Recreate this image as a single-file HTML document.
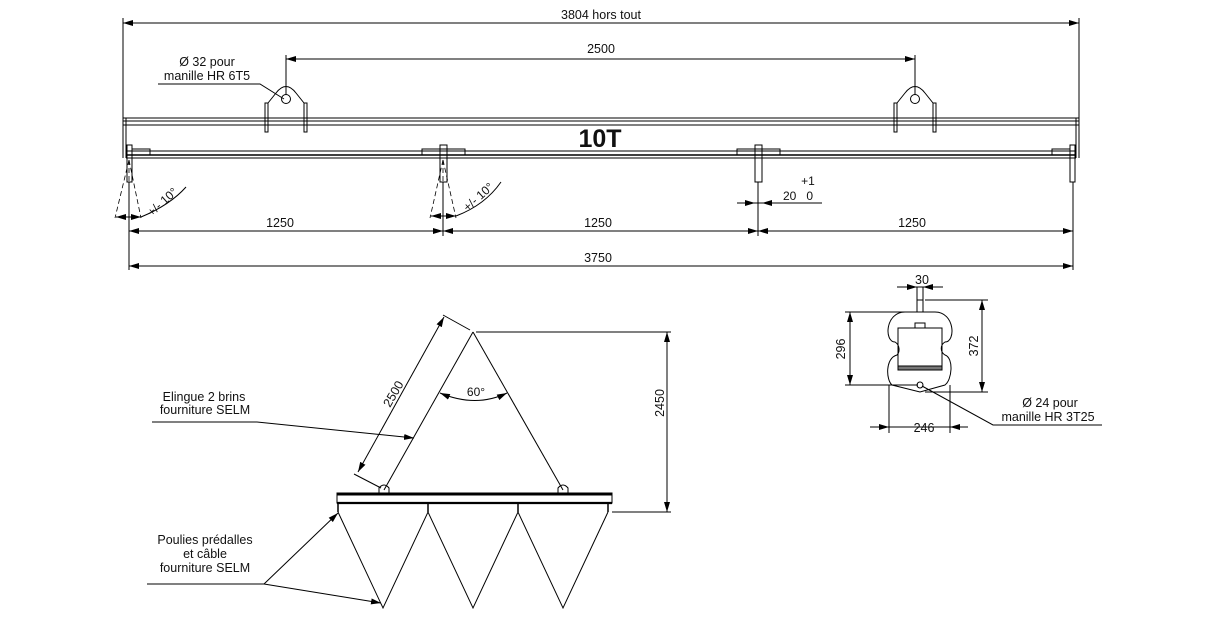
<!DOCTYPE html>
<html><head><meta charset="utf-8"><style>
html,body{margin:0;padding:0;background:#fff;}
svg{display:block;}
text{font-family:"Liberation Sans",sans-serif;fill:#111;}
</style></head><body>
<svg width="1210" height="634" viewBox="0 0 1210 634" xmlns="http://www.w3.org/2000/svg">
<defs>
<marker id="a" viewBox="0 0 10 6" refX="10" refY="3" markerWidth="10" markerHeight="6" orient="auto-start-reverse" markerUnits="userSpaceOnUse"><path d="M0,0 L10,3 L0,6 z" fill="#000"/></marker>
</defs>
<g stroke="#000" stroke-width="1" fill="none">
<line x1="123" y1="18" x2="123" y2="118"/>
<line x1="1079" y1="18" x2="1079" y2="118"/>
<line x1="123" y1="23" x2="1079" y2="23" marker-start="url(#a)" marker-end="url(#a)"/>
<line x1="286" y1="55" x2="286" y2="95"/>
<line x1="915" y1="55" x2="915" y2="95"/>
<line x1="286" y1="59" x2="915" y2="59" marker-start="url(#a)" marker-end="url(#a)"/>
<rect x="123" y="118" width="956" height="7"/>
<line x1="123" y1="121" x2="1079" y2="121"/>
<line x1="123" y1="125" x2="123" y2="158"/>
<line x1="126" y1="118" x2="126" y2="158"/>
<line x1="1076" y1="118" x2="1076" y2="158"/>
<line x1="1079" y1="118" x2="1079" y2="158"/>
<line x1="126" y1="151" x2="1076" y2="151"/>
<line x1="126" y1="155" x2="1076" y2="155" stroke-width="1.5"/>
<line x1="126" y1="158" x2="1076" y2="158"/>
<rect x="265" y="103" width="3" height="29"/><rect x="304" y="103" width="3" height="29"/>
<path d="M268,103 L276,93 Q286,80 296,93 L304,103"/>
<circle cx="286" cy="99" r="4.5"/>
<rect x="894" y="103" width="3" height="29"/><rect x="933" y="103" width="3" height="29"/>
<path d="M897,103 L905,93 Q915,80 925,93 L933,103"/>
<circle cx="915" cy="99" r="4.5"/>
<rect x="132" y="149" width="18" height="6"/>
<rect x="127" y="145" width="5" height="37"/>
<rect x="422" y="149" width="43" height="6"/>
<rect x="440" y="145" width="7" height="37"/>
<rect x="737" y="149" width="43" height="6"/>
<rect x="755" y="145" width="7" height="37"/>
<rect x="1052" y="149" width="18" height="6"/>
<rect x="1070" y="145" width="5" height="37"/>
<g stroke-dasharray="5,3" stroke-width="0.8">
<line x1="129" y1="160" x2="115" y2="218"/><line x1="129" y1="160" x2="141" y2="218"/><line x1="129" y1="160" x2="129" y2="200"/>
<line x1="443" y1="160" x2="430" y2="218"/><line x1="443" y1="160" x2="456" y2="218"/><line x1="443" y1="160" x2="443" y2="200"/>
</g>
<path d="M141,217 Q170,205 186,187"/>
<line x1="116" y1="217" x2="141" y2="217" marker-start="url(#a)" marker-end="url(#a)"/>
<path d="M456,216 Q485,205 501,182"/>
<line x1="431" y1="216" x2="456" y2="216" marker-start="url(#a)" marker-end="url(#a)"/>
<line x1="737" y1="203" x2="822" y2="203"/>
<line x1="745" y1="203" x2="755" y2="203" marker-end="url(#a)"/>
<line x1="772" y1="203" x2="762" y2="203" marker-end="url(#a)"/>
<line x1="129" y1="182" x2="129" y2="270"/>
<line x1="443" y1="182" x2="443" y2="236"/>
<line x1="758" y1="182" x2="758" y2="236"/>
<line x1="1073" y1="182" x2="1073" y2="270"/>
<line x1="129" y1="231" x2="443" y2="231" marker-start="url(#a)" marker-end="url(#a)"/>
<line x1="443" y1="231" x2="758" y2="231" marker-start="url(#a)" marker-end="url(#a)"/>
<line x1="758" y1="231" x2="1073" y2="231" marker-start="url(#a)" marker-end="url(#a)"/>
<line x1="129" y1="266" x2="1073" y2="266" marker-start="url(#a)" marker-end="url(#a)"/>
<path d="M158,84 L260,84 L284,99"/>

<line x1="473" y1="332" x2="384" y2="490"/>
<line x1="473" y1="332" x2="563" y2="490"/>
<path d="M379,494 L379,488 Q384,482 389,488 L389,494"/><path d="M558,494 L558,488 Q563,482 568,488 L568,494"/>
<rect x="337" y="493" width="275" height="10"/>
<line x1="337" y1="494.5" x2="612" y2="494.5" stroke-width="2"/>
<line x1="337" y1="503" x2="612" y2="503" stroke-width="2.2"/>
<g stroke-width="1.5">
<line x1="338" y1="503" x2="338" y2="512"/><line x1="428" y1="503" x2="428" y2="512"/><line x1="518" y1="503" x2="518" y2="512"/><line x1="608" y1="503" x2="608" y2="512"/>
</g>
<path d="M338,512 L383,608 L428,512 L473,608 L518,512 L563,608 L608,512"/>
<line x1="476" y1="332" x2="671" y2="332"/>
<line x1="612" y1="512" x2="671" y2="512"/>
<line x1="667" y1="332" x2="667" y2="512" marker-start="url(#a)" marker-end="url(#a)"/>
<line x1="470" y1="330" x2="443" y2="315"/>
<line x1="381" y1="488" x2="354" y2="474"/>
<line x1="444" y1="317" x2="358" y2="472" marker-start="url(#a)" marker-end="url(#a)"/>
<path d="M440,393 Q476,408 507,393" marker-start="url(#a)" marker-end="url(#a)"/>
<path d="M152,422 L257,422 L414,438" marker-end="url(#a)"/>
<line x1="147" y1="584" x2="264" y2="584"/>
<line x1="264" y1="584" x2="338" y2="513" marker-end="url(#a)"/>
<line x1="264" y1="584" x2="381" y2="603" marker-end="url(#a)"/>

<line x1="897" y1="287" x2="943" y2="287"/>
<line x1="905" y1="287" x2="917" y2="287" marker-end="url(#a)"/>
<line x1="935" y1="287" x2="923" y2="287" marker-end="url(#a)"/>
<line x1="917" y1="287" x2="917" y2="312"/><line x1="923" y1="287" x2="923" y2="312"/>
<rect x="917" y="300" width="6" height="12"/>
<path d="M905,312 C885,312 884,342 895,342 C900,345 900,352 897,355 C885,358 886,380 892,385 L920,392 L945,385 C952,380 954,358 945,355 C940,352 940,345 945,342 C956,342 955,312 935,312 Z"/>
<rect x="898" y="328" width="44" height="42"/>
<rect x="898" y="366" width="44" height="4" fill="#777"/>
<rect x="915" y="323" width="10" height="5"/>
<line x1="845" y1="312" x2="905" y2="312"/>
<line x1="845" y1="385" x2="918" y2="385"/>
<line x1="850" y1="312" x2="850" y2="385" marker-start="url(#a)" marker-end="url(#a)"/>
<line x1="925" y1="300" x2="988" y2="300"/>
<line x1="925" y1="392" x2="988" y2="392"/>
<line x1="982" y1="300" x2="982" y2="392" marker-start="url(#a)" marker-end="url(#a)"/>
<circle cx="920" cy="385" r="3"/>
<path d="M922,386 L993,425 L1102,425"/>
<line x1="889" y1="385" x2="889" y2="433"/>
<line x1="950" y1="385" x2="950" y2="433"/>
<line x1="870" y1="427" x2="968" y2="427"/>
<line x1="875" y1="427" x2="889" y2="427" marker-end="url(#a)"/>
<line x1="964" y1="427" x2="950" y2="427" marker-end="url(#a)"/>
</g>

<g font-size="12.5" text-anchor="middle">
<text x="601" y="19">3804 hors tout</text>
<text x="601" y="53">2500</text>
<text x="207" y="66">Ø 32 pour</text>
<text x="207" y="80">manille HR 6T5</text>
<text x="600" y="147" font-size="25" font-weight="bold">10T</text>
<text x="280" y="227">1250</text>
<text x="598" y="227">1250</text>
<text x="912" y="227">1250</text>
<text x="598" y="262">3750</text>
<text x="808" y="185" font-size="12">+1</text>
<text x="798" y="200" font-size="12">20&#160;&#160;&#160;0</text>
<text transform="translate(165,205) rotate(-42)" font-size="12">+/- 10°</text>
<text transform="translate(481,200) rotate(-42)" font-size="12">+/- 10°</text>
<text x="204" y="401">Elingue 2 brins</text>
<text x="205" y="414">fourniture SELM</text>
<text x="205" y="544">Poulies prédalles</text>
<text x="205" y="558">et câble</text>
<text x="205" y="572">fourniture SELM</text>
<text transform="translate(397,396) rotate(-60)">2500</text>
<text x="476" y="396" font-size="12">60°</text>
<text transform="translate(664,403) rotate(-90)">2450</text>
<text x="922" y="284">30</text>
<text transform="translate(845,349) rotate(-90)">296</text>
<text transform="translate(978,346) rotate(-90)">372</text>
<text x="1050" y="407">Ø 24 pour</text>
<text x="1048" y="421">manille HR 3T25</text>
<text x="924" y="432">246</text>
</g>
</svg>
</body></html>
